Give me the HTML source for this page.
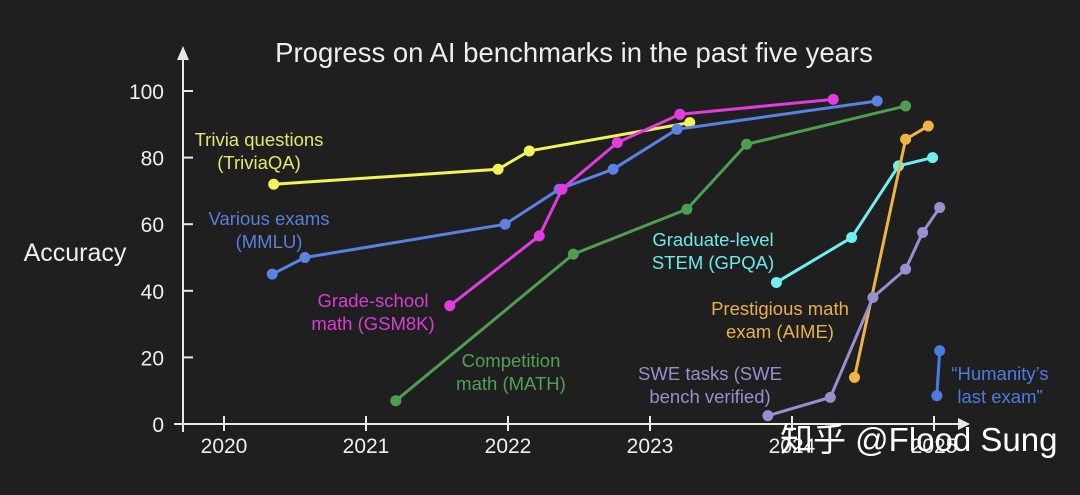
<!DOCTYPE html>
<html><head><meta charset="utf-8"><style>
html,body{margin:0;padding:0;background:#1f1f1f;}
svg text{font-family:"Liberation Sans","Noto Sans CJK SC",sans-serif;}
</style></head><body>
<svg id="chart" width="1080" height="490" xmlns="http://www.w3.org/2000/svg">
<rect width="1080" height="490" fill="#1f1f1f"/>
<text x="574" y="62" text-anchor="middle" fill="#eeeeee" font-size="27.5">Progress on AI benchmarks in the past five years</text>
<text x="75" y="261" text-anchor="middle" fill="#eeeeee" font-size="25">Accuracy</text>
<g id="axes"></g>
<g id="series"></g>
<g id="labels" font-size="18.5"></g>
<text x="780" y="451" fill="#ffffff" font-size="33">知乎 @Flood Sung</text>
</svg>
<script>
const yTicks=[0,20,40,60,80,100];
const xTicks=[2020,2021,2022,2023,2024,2025];
const seriesNames=["TriviaQA","MMLU","GSM8K","MATH","GPQA","AIME","SWE","HLE"];
const seriesColors=["#f2f25a","#5a82e2","#e23be0","#4e9e50","#70efee","#f0b444","#9a8ed0","#4a7ce0"];
const triviaX=[2020.35,2021.93,2022.15,2023.28];
const triviaY=[72,76.5,82,90.5];
const mmluX=[2020.34,2020.57,2021.98,2022.36,2022.74,2023.19,2024.6];
const mmluY=[45,50,60,70.5,76.5,88.5,97];
const gsmX=[2021.59,2022.22,2022.38,2022.77,2023.21,2024.29];
const gsmY=[35.5,56.5,70.5,84.5,93,97.5];
const mathX=[2021.21,2022.46,2023.26,2023.68,2024.8];
const mathY=[7,51,64.5,84,95.5];
const gpqaX=[2023.89,2024.42,2024.75,2024.99];
const gpqaY=[42.5,56,77.5,80];
const aimeX=[2024.44,2024.8,2024.96];
const aimeY=[14,85.5,89.5];
const sweX=[2023.83,2024.27,2024.57,2024.8,2024.92,2025.04];
const sweY=[2.5,8,38,46.5,57.5,65];
const hleX=[2025.02,2025.04];
const hleY=[8.5,22];
const allX=[triviaX,mmluX,gsmX,mathX,gpqaX,aimeX,sweX,hleX];
const allY=[triviaY,mmluY,gsmY,mathY,gpqaY,aimeY,sweY,hleY];
const labelText=[["Trivia questions","(TriviaQA)"],["Various exams","(MMLU)"],["Grade-school","math (GSM8K)"],["Competition","math (MATH)"],["Graduate-level","STEM (GPQA)"],["Prestigious math","exam (AIME)"],["SWE tasks (SWE","bench verified)"],["\u201cHumanity\u2019s","last exam\u201d"]];
const labelColors=["#e6e66a","#5a7fd8","#d63ed6","#52a054","#6ee8e8","#e8b04c","#9a8ed0","#4a7ce0"];
const labelPos=[[259,146],[269,225],[373,307],[511,367],[713,246],[780,315],[710,380],[1000,380]];

const NS="http://www.w3.org/2000/svg";
const X=v=>224+(v-2020)*142;
const Y=v=>424-v*3.33;
function mk(tag,attrs,parent){const e=document.createElementNS(NS,tag);for(const k in attrs)e.setAttribute(k,attrs[k]);parent.appendChild(e);return e;}
const axes=document.getElementById('axes');
const ax=mk('path',{d:"M174 424 H960",stroke:"#e8e8e8","stroke-width":2,fill:"none"},axes);


const ar=mk('path',{d:"M958 418 L970 424 L958 430 Z",fill:"#e8e8e8"},axes);


const ay=mk('path',{d:"M183 432 V58",stroke:"#e8e8e8","stroke-width":2,fill:"none"},axes);


const ayr=mk('path',{d:"M177 60 L183 46 L189 60 Z",fill:"#e8e8e8"},axes);


yTicks.forEach(t=>{
 const l=mk('path',{d:`M183 ${Y(t)} H193`,stroke:"#e8e8e8","stroke-width":2},axes);
 
 
 const tx=mk('text',{x:164,y:Y(t)+8,"text-anchor":"end",fill:"#eeeeee","font-size":21},axes);
 tx.textContent=t;
 
 
});
xTicks.forEach(t=>{
 const l=mk('path',{d:`M${X(t)} 416 V431`,stroke:"#e8e8e8","stroke-width":2},axes);
 
 
 const tx=mk('text',{x:X(t),y:453,"text-anchor":"middle",fill:"#eeeeee","font-size":21},axes);
 tx.textContent=t;
 
 
});
const sg=document.getElementById('series');
allX.forEach((xs,i)=>{
 const g=mk('g',{},sg);
 
 
 const pts=xs.map((x,j)=>X(x)+','+Y(allY[i][j])).join(' ');
 const pl=mk('polyline',{points:pts,fill:"none",stroke:seriesColors[i],"stroke-width":3},g);
 
 
 xs.forEach((x,j)=>{
  const c=mk('circle',{cx:X(x),cy:Y(allY[i][j]),r:5.5,fill:seriesColors[i]},g);
  
  
 });
});
const lg=document.getElementById('labels');
labelText.forEach((lines,i)=>{
 const t=mk('text',{x:labelPos[i][0],y:labelPos[i][1],"text-anchor":"middle",fill:labelColors[i]},lg);
 
 
 lines.forEach((s,k)=>{const ts=mk('tspan',{x:labelPos[i][0],dy:k?23:0},t);ts.textContent=s;});
});
</script>
</body></html>
